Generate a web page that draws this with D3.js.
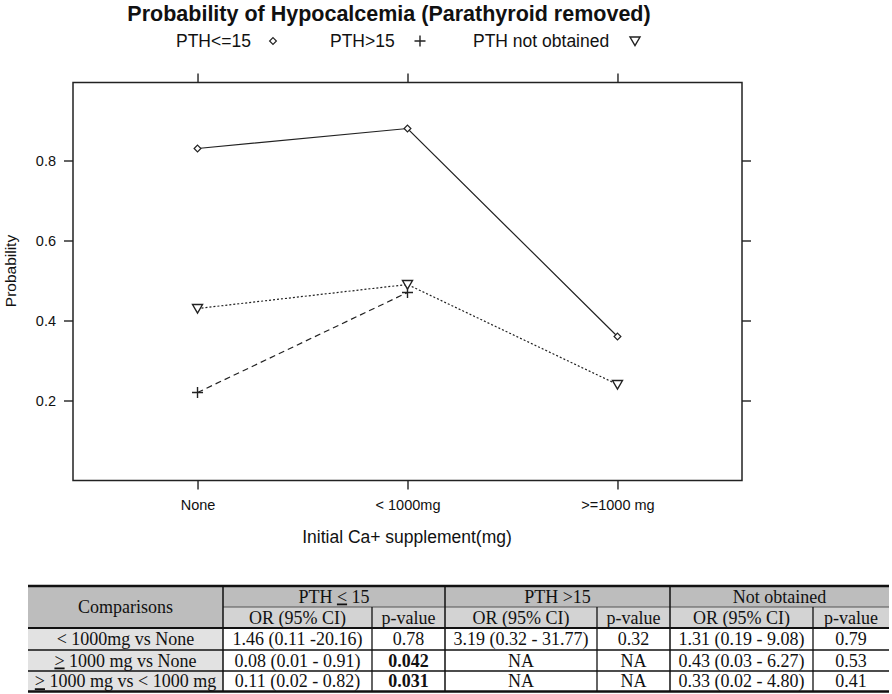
<!DOCTYPE html>
<html>
<head>
<meta charset="utf-8">
<script src="https://cdn.jsdelivr.net/npm/d3@7"></script>
<style>
  body { margin: 0; background: #fff; }
  svg { display: block; }
</style>
</head>
<body>
<svg id="chart" width="892" height="694"></svg>
<script>
// ---------- data ----------
const categories = ["None", "< 1000mg", ">=1000 mg"];
const seriesNames = ["PTH<=15", "PTH>15", "PTH not obtained"];
const pthLow = [0.83, 0.88, 0.36];
const pthHigh = [0.22, 0.47, null];
const pthNA = [0.43, 0.49, 0.24];
const yTicks = [0.2, 0.4, 0.6, 0.8];
const yTickLabels = ["0.2", "0.4", "0.6", "0.8"];

const groupHeaders = ["PTH \u2264 15", "PTH >15", "Not obtained"];
const subHeaders = ["OR (95% CI)", "p-value"];
const comparisons = ["< 1000mg vs None", "\u2265 1000 mg vs None", "\u2265 1000 mg vs < 1000 mg"];
const orLow = ["1.46 (0.11 -20.16)", "0.08 (0.01 - 0.91)", "0.11 (0.02 - 0.82)"];
const pLow = ["0.78", "0.042", "0.031"];
const orHigh = ["3.19 (0.32 - 31.77)", "NA", "NA"];
const pHigh = ["0.32", "NA", "NA"];
const orNA = ["1.31 (0.19 - 9.08)", "0.43 (0.03 - 6.27)", "0.33 (0.02 - 4.80)"];
const pNA = ["0.79", "0.53", "0.41"];
const boldP = ["0.042", "0.031"];

// ---------- layout ----------
const svg = d3.select("#chart");
const sans = "'Liberation Sans', Arial, sans-serif";
const serif = "'Liberation Serif', 'Times New Roman', serif";
const frame = {left: 73, right: 742, top: 82.5, bottom: 480.5};
const ink = "#222";

const x = d3.scalePoint().domain(categories).range([frame.left, frame.right]).padding(0.593);
const y = d3.scaleLinear().domain([0, 0.995]).range([frame.bottom, frame.top]);

// title
svg.append("text").attr("x", 389).attr("y", 21).attr("text-anchor", "middle")
  .attr("font-family", sans).attr("font-weight", "bold").attr("font-size", 21.5)
  .attr("fill", "#111").text("Probability of Hypocalcemia (Parathyroid removed)");

// symbols
function drawSymbol(g, kind, cx, cy) {
  if (kind === 0) {
    g.append("path").attr("d", `M${cx},${cy-3.4}L${cx+3.4},${cy}L${cx},${cy+3.4}L${cx-3.4},${cy}Z`)
      .attr("fill", "#fff").attr("stroke", ink).attr("stroke-width", 1.2);
  } else if (kind === 1) {
    g.append("path").attr("d", `M${cx-5.5},${cy}H${cx+5.5}M${cx},${cy-5.5}V${cy+5.5}`)
      .attr("stroke", ink).attr("stroke-width", 1.4).attr("fill", "none");
  } else {
    g.append("path").attr("d", `M${cx-5},${cy-4}L${cx+5},${cy-4}L${cx},${cy+4.5}Z`)
      .attr("fill", "#fff").attr("stroke", ink).attr("stroke-width", 1.4);
  }
}

// legend
const legText = [176, 330, 473];
const legSym = [273, 420, 635];
const lg = svg.append("g");
seriesNames.forEach((s, i) => {
  lg.append("text").attr("x", legText[i]).attr("y", 47).attr("font-family", sans)
    .attr("font-size", 17.5).attr("fill", "#111").text(s);
  drawSymbol(lg, i, legSym[i], 41);
});

// frame
svg.append("rect").attr("x", frame.left).attr("y", frame.top)
  .attr("width", frame.right - frame.left).attr("height", frame.bottom - frame.top)
  .attr("fill", "none").attr("stroke", ink).attr("stroke-width", 1.5);

// axes
const tk = 9;
const axL = svg.append("g").attr("transform", `translate(${frame.left},0)`)
  .call(d3.axisLeft(y).tickValues(yTicks).tickFormat((d, i) => yTickLabels[i]).tickSize(tk).tickPadding(8));
const axR = svg.append("g").attr("transform", `translate(${frame.right},0)`)
  .call(d3.axisRight(y).tickValues(yTicks).tickFormat("").tickSize(tk));
const axB = svg.append("g").attr("transform", `translate(0,${frame.bottom})`)
  .call(d3.axisBottom(x).tickSize(tk).tickPadding(8));
const axT = svg.append("g").attr("transform", `translate(0,${frame.top})`)
  .call(d3.axisTop(x).tickFormat("").tickSize(tk));
[axL, axR, axB, axT].forEach(a => {
  a.select(".domain").remove();
  a.selectAll("line").attr("stroke", ink).attr("stroke-width", 1.4);
  a.selectAll("text").attr("font-family", sans).attr("font-size", 14.5).attr("fill", "#111");
});
axB.selectAll("text").attr("y", 19).attr("dy", "0.71em");

// axis titles
svg.append("text").attr("transform", "translate(16,271) rotate(-90)").attr("text-anchor", "middle")
  .attr("font-family", sans).attr("font-size", 15.5).attr("fill", "#111").text("Probability");
svg.append("text").attr("x", 407).attr("y", 543).attr("text-anchor", "middle")
  .attr("font-family", sans).attr("font-size", 17.5).attr("fill", "#111").text("Initial Ca+ supplement(mg)");

// series lines
const seriesVals = [pthLow, pthHigh, pthNA];
const dashes = [null, "6,4", "2,2"];
const line = d3.line().defined(d => d.v != null).x(d => x(d.c)).y(d => y(d.v));
const pg = svg.append("g");
seriesVals.forEach((vals, i) => {
  const pts = categories.map((c, j) => ({c, v: vals[j]}));
  pg.append("path").attr("d", line(pts)).attr("fill", "none").attr("stroke", ink)
    .attr("stroke-width", 1.2).attr("stroke-dasharray", dashes[i]);
});
seriesVals.forEach((vals, i) => {
  categories.forEach((c, j) => {
    if (vals[j] != null) drawSymbol(pg, i, x(c), y(vals[j]));
  });
});

// ---------- table ----------
const colX = [28, 223, 372, 445, 597, 670, 813, 889];
const rowY = [586, 607, 628, 650, 671, 691.5];
const tg = svg.append("g");
const fs = 18;

// backgrounds
tg.append("rect").attr("x", colX[0]).attr("y", rowY[0]).attr("width", colX[7]-colX[0]).attr("height", rowY[1]-rowY[0]).attr("fill", "#bdbdbd");
tg.append("rect").attr("x", colX[0]).attr("y", rowY[1]).attr("width", colX[1]-colX[0]).attr("height", rowY[2]-rowY[1]).attr("fill", "#bdbdbd");
tg.append("rect").attr("x", colX[1]).attr("y", rowY[1]).attr("width", colX[7]-colX[1]).attr("height", rowY[2]-rowY[1]).attr("fill", "#d3d3d3");
tg.append("rect").attr("x", colX[0]).attr("y", rowY[2]).attr("width", colX[1]-colX[0]).attr("height", rowY[5]-rowY[2]).attr("fill", "#e2e2e2");

function cellText(txt, x0, x1, yb, bold) {
  const t = tg.append("text").attr("x", (x0 + x1) / 2).attr("y", yb).attr("text-anchor", "middle")
    .attr("font-family", serif).attr("font-size", fs).attr("fill", "#111");
  if (bold) t.attr("font-weight", "bold");
  // render ≤ / ≥ as underlined < / >
  const m = txt.match(/[\u2264\u2265]/);
  if (m) {
    const k = txt.indexOf(m[0]);
    if (k > 0) t.append("tspan").text(txt.slice(0, k));
    t.append("tspan").attr("text-decoration", "underline").text(m[0] === "\u2264" ? "<" : ">");
    t.append("tspan").text(txt.slice(k + 1));
  } else t.text(txt);
  return t;
}
const base = r => (rowY[r] + rowY[r+1]) / 2 + 6;

cellText("Comparisons", colX[0], colX[1], (rowY[0] + rowY[2]) / 2 + 6);
groupHeaders.forEach((g, i) => {
  cellText(g, colX[1 + 2*i], colX[3 + 2*i], base(0));
  subHeaders.forEach((s, j) => cellText(s, colX[1 + 2*i + j], colX[2 + 2*i + j], base(1)));
});
const cols = [orLow, pLow, orHigh, pHigh, orNA, pNA];
comparisons.forEach((c, r) => {
  cellText(c, colX[0], colX[1], base(r + 2));
  cols.forEach((col, k) => cellText(col[r], colX[1 + k], colX[2 + k], base(r + 2), boldP.includes(col[r]) && k === 1));
});

// grid lines
const hl = (yy, x0, x1, w, col) => tg.append("line").attr("x1", x0).attr("x2", x1).attr("y1", yy).attr("y2", yy).attr("stroke", col || "#111").attr("stroke-width", w);
const vl = (xx, y0, y1, w, col) => tg.append("line").attr("x1", xx).attr("x2", xx).attr("y1", y0).attr("y2", y1).attr("stroke", col || "#111").attr("stroke-width", w);
hl(rowY[0], colX[0], colX[7], 2.5);
hl(rowY[1], colX[1], colX[7], 1.2, "#555");
hl(rowY[2], colX[0], colX[7], 2);
hl(rowY[3], colX[0], colX[7], 1.3);
hl(rowY[4], colX[0], colX[7], 1.3);
hl(rowY[5], colX[0], colX[7], 2.5);
[1, 3, 5].forEach(i => vl(colX[i], rowY[0], rowY[5], 1.5));
[2, 4, 6].forEach(i => vl(colX[i], rowY[1], rowY[5], 1.3));
</script>
</body>
</html>
